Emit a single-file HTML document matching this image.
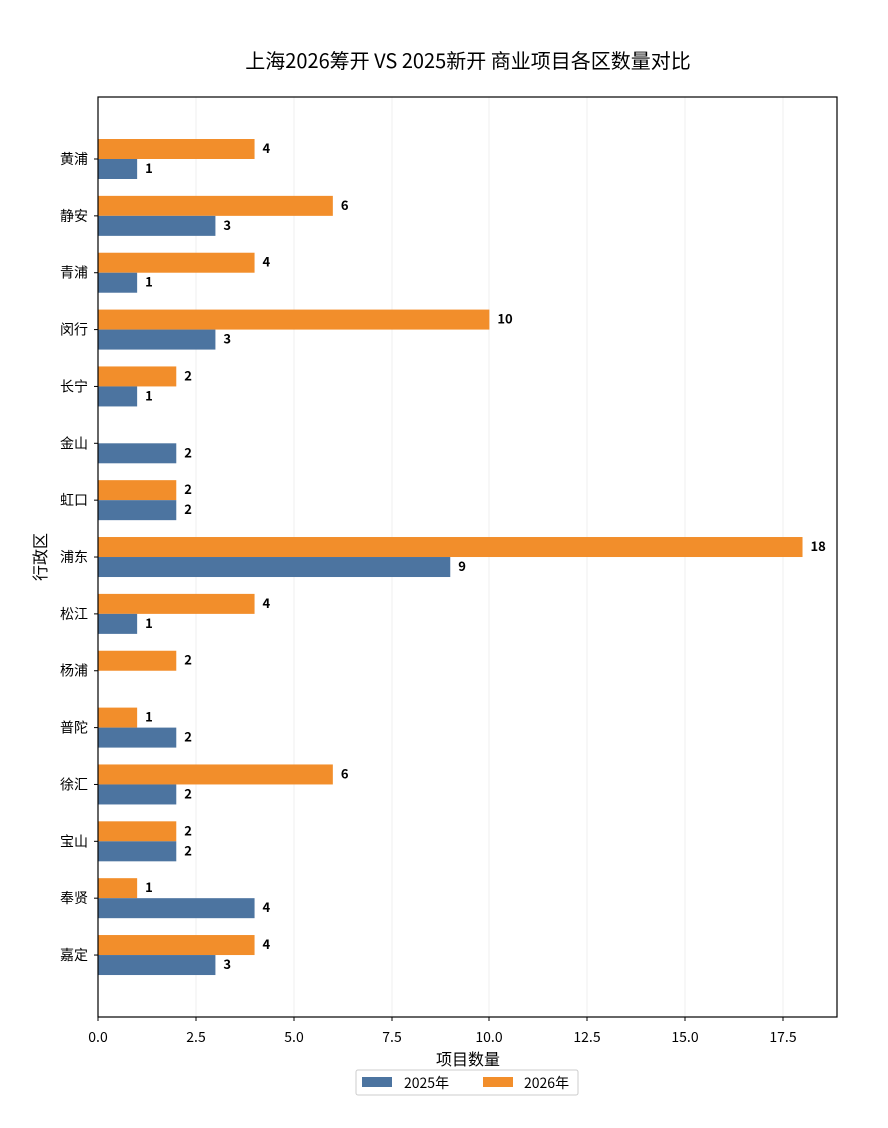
<!DOCTYPE html>
<html><head><meta charset="utf-8"><style>
body{margin:0;background:#fff}
text{font-family:"Noto Sans CJK SC","Liberation Sans",sans-serif}
</style></head><body>
<svg width="888" height="1123" xmlns="http://www.w3.org/2000/svg">
<rect width="888" height="1123" fill="#fff"/>
<text x="468" y="68" font-size="20" text-anchor="middle" fill="#000">上海2026筹开 VS 2025新开 商业项目各区数量对比</text>
<g id="grid" stroke="#efefef" stroke-width="1">
<line x1="196" y1="97" x2="196" y2="1017"/>
<line x1="294" y1="97" x2="294" y2="1017"/>
<line x1="392" y1="97" x2="392" y2="1017"/>
<line x1="489" y1="97" x2="489" y2="1017"/>
<line x1="587" y1="97" x2="587" y2="1017"/>
<line x1="685" y1="97" x2="685" y2="1017"/>
<line x1="783" y1="97" x2="783" y2="1017"/>
</g>
<g id="bars"></g>
<rect x="98" y="97" width="739" height="920" fill="none" stroke="#000" stroke-width="1.2"/>
<g font-size="14" fill="#000" text-anchor="middle">
<text x="98" y="1042">0.0</text><text x="196" y="1042">2.5</text><text x="294" y="1042">5.0</text><text x="392" y="1042">7.5</text><text x="489" y="1042">10.0</text><text x="587" y="1042">12.5</text><text x="685" y="1042">15.0</text><text x="783" y="1042">17.5</text>
</g>
<g stroke="#000"><line x1="98" y1="1017" x2="98" y2="1021"/><line x1="196" y1="1017" x2="196" y2="1021"/><line x1="294" y1="1017" x2="294" y2="1021"/><line x1="392" y1="1017" x2="392" y2="1021"/><line x1="489" y1="1017" x2="489" y2="1021"/><line x1="587" y1="1017" x2="587" y2="1021"/><line x1="685" y1="1017" x2="685" y2="1021"/><line x1="783" y1="1017" x2="783" y2="1021"/></g>
<text x="468" y="1065" font-size="16" text-anchor="middle">项目数量</text>
<text transform="translate(46,557) rotate(-90)" font-size="16" text-anchor="middle">行政区</text>
<rect x="356" y="1070" width="222" height="25" fill="#fff" stroke="#ccc" rx="2"/>
<rect x="362" y="1077" width="30" height="10" fill="#4c74a0"/>
<text x="404" y="1088" font-size="14">2025年</text>
<rect x="483" y="1077" width="30" height="10" fill="#f28e2b"/>
<text x="524" y="1088" font-size="14">2026年</text>
<g id="labels"></g>
</svg>
<script>
var d=[["黄浦",1,4],["静安",3,6],["青浦",1,4],["闵行",3,10],["长宁",1,2],["金山",2,0],["虹口",2,2],["浦东",9,18],["松江",1,4],["杨浦",0,2],["普陀",2,1],["徐汇",2,6],["宝山",2,2],["奉贤",4,1],["嘉定",3,4]];
var ns="http://www.w3.org/2000/svg",b=document.getElementById("bars"),l=document.getElementById("labels"),u=39.14;
function el(p,t,a,tx){var e=document.createElementNS(ns,t);for(var k in a)e.setAttribute(k,a[k]);if(tx!=null)e.textContent=tx;p.appendChild(e);}
d.forEach(function(r,i){var c=159+i*56.86;
if(r[2]>0){el(b,"rect",{x:98,y:c-20,width:r[2]*u,height:20,fill:"#f28e2b"});el(l,"text",{x:98+r[2]*u+8,y:c-6,"font-size":13,"font-weight":"bold"},r[2]);}
if(r[1]>0){el(b,"rect",{x:98,y:c,width:r[1]*u,height:20,fill:"#4c74a0"});el(l,"text",{x:98+r[1]*u+8,y:c+14,"font-size":13,"font-weight":"bold"},r[1]);}
el(l,"line",{x1:94,y1:c,x2:98,y2:c,stroke:"#000"});
el(l,"text",{x:88,y:c+5,"font-size":14,"text-anchor":"end"},r[0]);
});
</script>
</body></html>
